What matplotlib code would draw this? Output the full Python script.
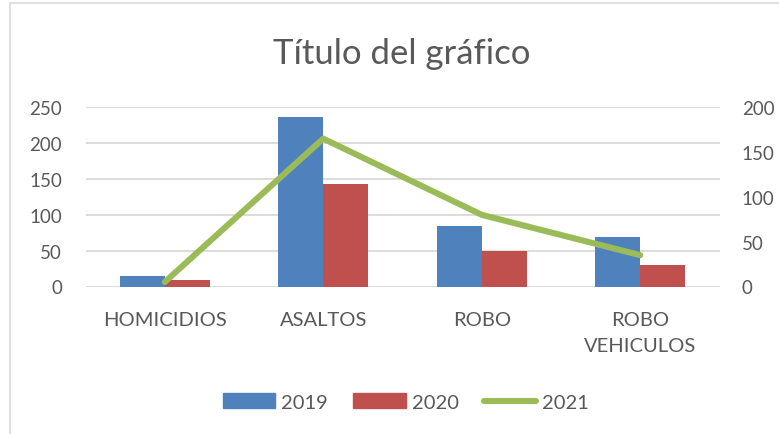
import matplotlib
matplotlib.use("Agg")
import matplotlib.pyplot as plt
from matplotlib.patches import Rectangle
from matplotlib.lines import Line2D
import numpy as np

categories = ["HOMICIDIOS", "ASALTOS", "ROBO", "ROBO\nVEHICULOS"]
values_2019 = [14, 237, 85, 69]
values_2020 = [9, 143, 50, 30]
values_2021 = [5, 165, 80, 35]
series_names = ["2019", "2020", "2021"]
left_ticks = [0, 50, 100, 150, 200, 250]
right_ticks = [0, 50, 100, 150, 200]

BLUE = "#4F81BD"
RED = "#C0504D"
GREEN = "#9BBB59"
TEXT = "#595959"
GRID = "#D9D9D9"

plt.rcParams["font.family"] = ["Lato", "DejaVu Sans"]

W, H = 779, 435
fig = plt.figure(figsize=(W / 100, H / 100), dpi=100)
fig.patch.set_facecolor("white")

# chart-area border
fig.add_artist(Rectangle((9.5 / W, -0.05), 1.0, (H - 3.5) / H + 0.05,
                         transform=fig.transFigure, fill=False,
                         edgecolor=GRID, linewidth=1.2))

ax_l, ax_r = 85.5 / W, 719.5 / W
ax_b, ax_t = 1 - 287.5 / H, 1 - 108.3 / H
ax = fig.add_axes([ax_l, ax_b, ax_r - ax_l, ax_t - ax_b])
ax2 = ax.twinx()

x = np.arange(len(categories))
bw = 0.284
ax.bar(x - bw / 2, values_2019, bw, color=BLUE, zorder=2, label=series_names[0])
ax.bar(x + bw / 2, values_2020, bw, color=RED, zorder=2, label=series_names[1])
ax2.plot(x, values_2021, color=GREEN, lw=4.4, solid_capstyle="round",
         solid_joinstyle="round", zorder=3, label=series_names[2])

ax.set_xlim(-0.5, len(categories) - 0.5)
ax.set_ylim(0, 250)
ax2.set_ylim(0, 200)
ax.set_yticks(left_ticks)
ax2.set_yticks(right_ticks)
ax.set_xticks(x)
ax.set_xticklabels(categories, linespacing=1.6, fontsize=14.5)

for a in (ax, ax2):
    for s in a.spines.values():
        s.set_visible(False)
    a.tick_params(length=0, colors=TEXT)
ax.tick_params(axis="y", pad=17, labelsize=13.5)
ax2.tick_params(axis="y", pad=16, labelsize=13.5)
ax.tick_params(axis="x", pad=18)

ax.grid(axis="y", color=GRID, lw=1.3, zorder=0)
ax.set_axisbelow(True)
ax2.set_zorder(ax.get_zorder() + 1)
ax2.patch.set_visible(False)

fig.text(402 / W, 1 - 54 / H, "Título del gráfico", ha="center", va="center",
         fontsize=25, color=TEXT)

handles = [
    Rectangle((0, 0), 1, 1, color=BLUE),
    Rectangle((0, 0), 1, 1, color=RED),
    Line2D([0], [0], color=GREEN, lw=4.4, solid_capstyle="round"),
]
fig.legend(handles, series_names, loc="center", ncol=3,
           bbox_to_anchor=(406 / W, 1 - 403 / H), frameon=False,
           fontsize=14.5, labelcolor=TEXT, handlelength=2.6,
           handleheight=0.7, handletextpad=0.3, columnspacing=1.25,
           borderpad=0.2)

fig.savefig("out.png", dpi=100, facecolor="white")
